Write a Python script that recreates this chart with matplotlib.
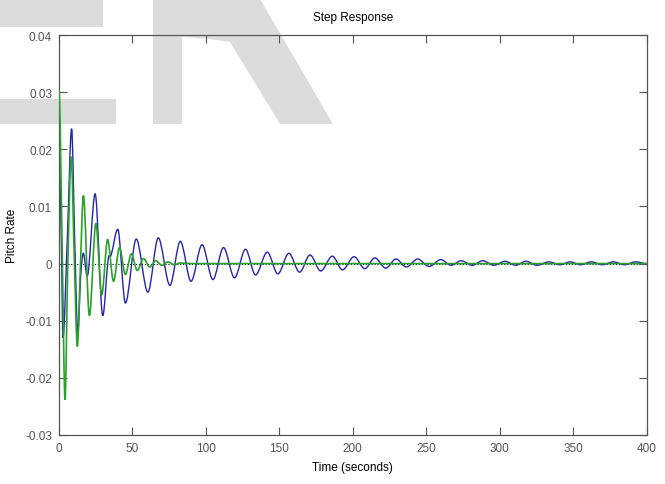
import matplotlib
matplotlib.use("Agg")
import matplotlib.pyplot as plt
from matplotlib.patches import Polygon, PathPatch
from matplotlib.path import Path

# blue response: extrema (time s, value)
blue_t = [0, 0.8, 1.6, 2.7, 5.6, 8.6, 10.7, 12.8, 14.8, 16.6, 19.2, 24.6,
          29.8, 33.5, 35.5, 40.0, 45.2, 52.6, 60.5, 67.6, 75.5, 82.6, 89.9,
          97.4, 104.8, 112.0, 119.5, 127.0, 133.8, 141.8, 149.0, 156.5,
          163.8, 170.9, 178.2, 186.1, 193.0, 200.9, 208.2, 215.0, 222.5,
          229.4, 236.5, 244.2, 252.0, 260.0, 267.0, 273.7, 281.5, 288.5,
          296.0, 303.8, 311.0, 318.0, 325.5, 333.5, 341.0, 348.0, 355.0,
          362.5, 370.0, 377.5, 385.0, 392.5, 400.0]
blue_y = [0.0190, 0.0135, 0.0040, -0.0130, 0.0040, 0.0236, 0.0040, -0.0122,
          -0.0020, 0.0018, -0.0022, 0.0122, -0.0091, 0.0008, 0.0015, 0.0060,
          -0.0069, 0.0043, -0.0050, 0.0045, -0.0038, 0.0039, -0.0031, 0.0033,
          -0.0028, 0.0028, -0.0025, 0.0025, -0.0020, 0.0020, -0.0018, 0.0018,
          -0.0015, 0.0015, -0.0013, 0.0013, -0.0011, 0.0012, -0.0009, 0.0010,
          -0.0008, 0.0008, -0.0006, 0.0008, -0.0005, 0.0007, -0.0003, 0.0005,
          -0.0003, 0.0005, -0.0003, 0.0004, -0.0003, 0.0004, -0.0003, 0.0003,
          -0.0002, 0.0003, -0.0002, 0.0003, -0.0002, 0.0003, -0.0002, 0.0003,
          0.0]

# green response
green_t = [0, 2.2, 4.1, 6.0, 8.3, 10.4, 12.5, 14.5, 16.6, 20.7, 25.1, 29.1,
           33.1, 37.1, 41.2, 45.2, 49.3, 53.3, 57.5, 61.8, 66.0, 70.0, 74.2,
           78.4, 82.5, 90.0, 400.0]
green_y = [0.0303, 0.0020, -0.0238, 0.0, 0.0187, 0.0010, -0.0145, -0.0010,
           0.0119, -0.0091, 0.0070, -0.0055, 0.0042, -0.0031, 0.0028, -0.0019,
           0.0017, -0.0012, 0.0009, -0.0006, 0.0005, -0.0003, 0.0003, -0.0002,
           0.0001, 0.0, 0.0]

xticks = [0, 50, 100, 150, 200, 250, 300, 350, 400]
yticks = [-0.03, -0.02, -0.01, 0, 0.01, 0.02, 0.03, 0.04]
ytick_labels = ['-0.03', '-0.02', '-0.01', '0', '0.01', '0.02', '0.03', '0.04']

W, H = 665, 485
narrow = ['Liberation Sans Narrow', 'Liberation Sans', 'DejaVu Sans']


def smooth_path(t, y):
    # cubic bezier through the read points, flat at the peaks/troughs
    n = len(t)
    s = [0.0] * n
    for i in range(1, n - 1):
        if (y[i] - y[i - 1]) * (y[i + 1] - y[i]) > 0:
            s[i] = (y[i + 1] - y[i - 1]) / (t[i + 1] - t[i - 1])
    verts = [(t[0], y[0])]
    codes = [Path.MOVETO]
    for i in range(n - 1):
        d = (t[i + 1] - t[i]) / 3
        verts += [(t[i] + d, y[i] + s[i] * d),
                  (t[i + 1] - d, y[i + 1] - s[i + 1] * d),
                  (t[i + 1], y[i + 1])]
        codes += [Path.CURVE4] * 3
    return Path(verts, codes)


fig = plt.figure(figsize=(W / 100, H / 100), dpi=100)
fig.patch.set_facecolor('white')

# big gray watermark letters behind the plot (pixel coords, top-left origin)
wm = '#dcdcdc'
shapes = [
    [(0, 0), (103, 0), (103, 28), (0, 28)],
    [(0, 100), (116, 100), (116, 125), (0, 125)],
    [(153, 0), (182, 0), (182, 125), (153, 125)],
    [(182, 0), (260, 0), (333, 125), (280, 125), (230, 43), (210, 40), (182, 38)],
]
for s in shapes:
    pts = [(x / W, 1 - y / H) for x, y in s]
    fig.patches.append(Polygon(pts, closed=True, facecolor=wm, edgecolor='none',
                               transform=fig.transFigure, figure=fig, zorder=-1))

ax = fig.add_axes([59 / W, 1 - 436 / H, (646.5 - 59) / W, (436 - 36) / H])
ax.set_facecolor('none')

ax.axhline(0, color='k', linestyle=':', linewidth=0.8, zorder=1)
ax.add_patch(PathPatch(smooth_path(blue_t, blue_y), fill=False,
                       edgecolor='#2424b0', linewidth=1.0, zorder=2))
ax.add_patch(PathPatch(smooth_path(green_t, green_y), fill=False,
                       edgecolor='#2aa22a', linewidth=1.2, zorder=3))

ax.set_xlim(0, 400)
ax.set_ylim(-0.03, 0.04)
ax.set_xticks(xticks)
ax.set_xticklabels([str(v) for v in xticks])
ax.set_yticks(yticks)
ax.set_yticklabels(ytick_labels)

for sp in ax.spines.values():
    sp.set_color('#555555')
    sp.set_linewidth(0.9)
ax.tick_params(direction='in', length=6, width=0.8, color='#555555',
               top=True, right=True, labelsize=8.5, labelcolor='#555555', pad=5)
for lab in ax.get_xticklabels() + ax.get_yticklabels():
    lab.set_family(narrow)

ax.set_title('Step Response', fontsize=8.5, family=narrow, pad=11)
ax.set_xlabel('Time (seconds)', fontsize=8.5, family=narrow, labelpad=5)
ax.set_ylabel('Pitch Rate', fontsize=8.5, family=['Liberation Sans', 'DejaVu Sans'])
ax.yaxis.set_label_coords((18 - 59) / 587.5, 0.5)

fig.savefig('out.png', dpi=100)
